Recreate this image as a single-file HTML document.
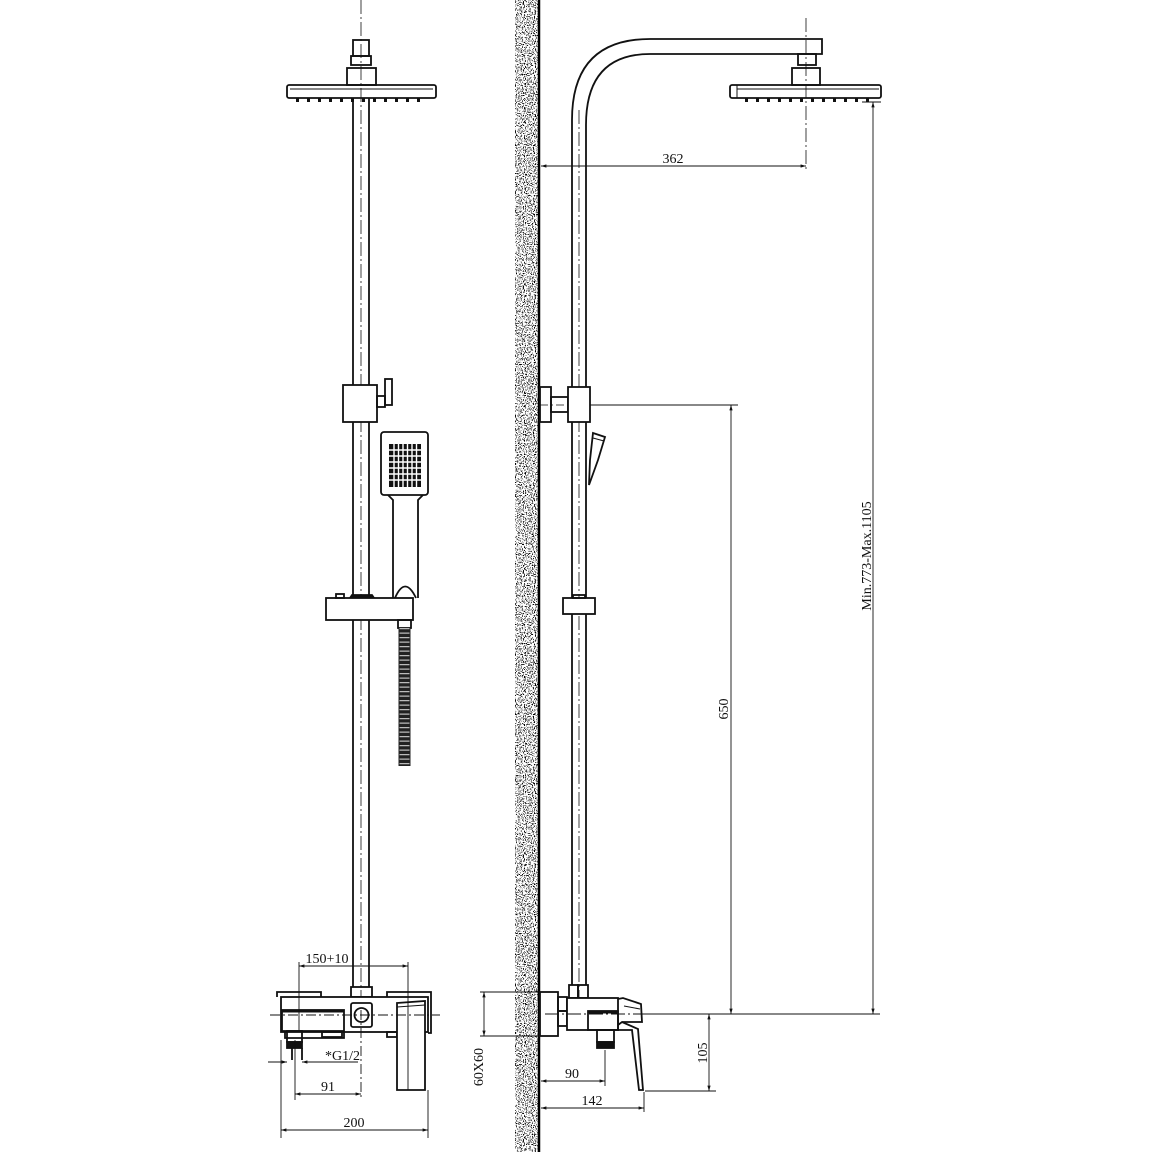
<!DOCTYPE html>
<html><head><meta charset="utf-8"><style>
html,body{margin:0;padding:0;background:#fff}
svg{display:block}
text{font-family:"Liberation Serif",serif;font-size:14px;fill:#111}
</style></head><body>
<svg width="1152" height="1152" viewBox="0 0 1152 1152" xmlns="http://www.w3.org/2000/svg">
<defs>
<filter id="spk" x="0" y="0" width="100%" height="100%">
<feTurbulence type="fractalNoise" baseFrequency="0.9" numOctaves="1" seed="3"/>
<feColorMatrix type="matrix" values="0 0 0 0 0  0 0 0 0 0  0 0 0 0 0  -12 0 0 0 5.6"/>
<feComposite in2="SourceGraphic" operator="in"/>
</filter>
<marker id="ar" viewBox="0 0 10 10" refX="10" refY="5" markerWidth="9" markerHeight="6" orient="auto-start-reverse"><path d="M0,2 L10,5 L0,8 z" fill="#111"/></marker>
</defs>
<rect width="1152" height="1152" fill="#fff"/>
<rect x="515" y="0" width="23" height="1152" fill="#fff"/>
<rect x="515" y="0" width="23" height="1152" fill="#000" filter="url(#spk)"/>
<line x1="539" y1="0" x2="539" y2="1152" stroke="#000" stroke-width="2.5"/>

<g fill="none" stroke="#111" stroke-width="1.8">
<line x1="361" y1="0" x2="361" y2="1000" stroke-width="0.8" stroke-dasharray="14,3,2,3"/>
<rect x="353" y="40" width="16" height="16"/>
<rect x="351" y="56" width="20" height="9"/>
<rect x="347" y="68" width="29" height="17"/>
<rect x="287" y="85" width="149" height="13" rx="2"/>
<line x1="290" y1="89" x2="433" y2="89" stroke-width="1"/>
<g fill="#111" stroke="none">
<rect x="296" y="98" width="3" height="4"/><rect x="307" y="98" width="3" height="4"/><rect x="318" y="98" width="3" height="4"/><rect x="329" y="98" width="3" height="4"/><rect x="340" y="98" width="3" height="4"/><rect x="351" y="98" width="3" height="4"/><rect x="362" y="98" width="3" height="4"/><rect x="373" y="98" width="3" height="4"/><rect x="384" y="98" width="3" height="4"/><rect x="395" y="98" width="3" height="4"/><rect x="406" y="98" width="3" height="4"/><rect x="417" y="98" width="3" height="4"/>
</g>
<line x1="353" y1="98" x2="353" y2="987"/>
<line x1="369" y1="98" x2="369" y2="987"/>
<rect x="343" y="385" width="34" height="37" fill="#fff"/>
<rect x="377" y="396" width="8" height="11"/>
<rect x="385" y="379" width="7" height="26"/>
<rect x="381" y="432" width="47" height="63" rx="3" fill="#fff"/>
<g fill="#111" stroke="none">
<rect x="389" y="444" width="32" height="43"/>
</g>
<g stroke="#fff" stroke-width="1.4">
<line x1="389" y1="450" x2="421" y2="450"/><line x1="389" y1="456" x2="421" y2="456"/><line x1="389" y1="462" x2="421" y2="462"/><line x1="389" y1="468" x2="421" y2="468"/><line x1="389" y1="474" x2="421" y2="474"/><line x1="389" y1="480" x2="421" y2="480"/>
<line x1="394" y1="444" x2="394" y2="487"/><line x1="398.5" y1="444" x2="398.5" y2="487"/><line x1="403" y1="444" x2="403" y2="487"/><line x1="407.5" y1="444" x2="407.5" y2="487"/><line x1="412" y1="444" x2="412" y2="487"/><line x1="416.5" y1="444" x2="416.5" y2="487"/>
</g>
<path d="M388,495 L393,500 L393,598 M423,495 L418,500 L418,598"/>
<path d="M395,598 Q405,575 416,598"/>
<rect x="326" y="598" width="87" height="22" fill="#fff"/>
<rect x="336" y="594" width="8" height="4"/>
<path d="M350,598 L352,595 L372,595 L374,598" fill="#111"/>
<rect x="398" y="620" width="13" height="8"/>
<line x1="404.5" y1="628" x2="404.5" y2="766" stroke-width="12" stroke="#222"/>
<line x1="404.5" y1="628" x2="404.5" y2="766" stroke-width="10" stroke="#bbb" stroke-dasharray="1.2,3.3"/>
<rect x="351" y="987" width="21" height="10"/>
<path d="M277,997 L277,992 L321,992 L321,997 M387,997 L387,992 L431,992 L431,1033 L428,1033"/>
<rect x="281" y="997" width="147" height="35" fill="#fff"/>
<rect x="282" y="1010" width="62" height="21"/>
<line x1="282" y1="1011" x2="344" y2="1011" stroke-width="3"/>
<rect x="351" y="1003" width="21" height="24" rx="2"/>
<circle cx="361.5" cy="1015" r="7"/>
<path d="M285,1032 L285,1038 L344,1038 L344,1032"/>
<rect x="322" y="1032" width="20" height="5"/>
<rect x="387" y="1032" width="10" height="5"/>
<path d="M397,1003 L425,1001 L425,1090 L397,1090 Z" fill="#fff"/>
<line x1="397" y1="1007" x2="425" y2="1005" stroke-width="1"/>
<rect x="287" y="1031" width="15" height="11"/>
<rect x="287" y="1042" width="15" height="6" fill="#111"/>
<path d="M292,1048 L292,1060 M302,1048 L302,1060"/>
<g stroke-width="0.9">
<line x1="299" y1="962" x2="299" y2="1032"/>
<line x1="408" y1="962" x2="408" y2="1090"/>
<line x1="299" y1="966" x2="408" y2="966" marker-start="url(#ar)" marker-end="url(#ar)"/>
<line x1="361" y1="1010" x2="361" y2="1100" stroke-dasharray="10,3,2,3"/>
<line x1="270" y1="1015" x2="440" y2="1015" stroke-dasharray="10,3,2,3"/>
<line x1="268" y1="1062" x2="287" y2="1062" marker-end="url(#ar)"/>
<line x1="302" y1="1062" x2="358" y2="1062" marker-start="url(#ar)"/>
<line x1="295" y1="1040" x2="295" y2="1100"/>
<line x1="295" y1="1094" x2="361" y2="1094" marker-start="url(#ar)" marker-end="url(#ar)"/>
<line x1="281" y1="1040" x2="281" y2="1138"/>
<line x1="428" y1="1090" x2="428" y2="1138"/>
<line x1="281" y1="1130" x2="428" y2="1130" marker-start="url(#ar)" marker-end="url(#ar)"/>
</g>

<line x1="579" y1="110" x2="579" y2="1000" stroke-width="0.8" stroke-dasharray="14,3,2,3"/>
<path d="M572,985 L572,120 Q572,39 650,39 L822,39 L822,54 L650,54 Q586,54 586,125 L586,985"/>
<rect x="798" y="54" width="18" height="11"/>
<rect x="792" y="68" width="28" height="17"/>
<rect x="730" y="85" width="151" height="13" rx="2"/>
<line x1="737" y1="85" x2="737" y2="98" stroke-width="1"/>
<line x1="737" y1="89" x2="879" y2="89" stroke-width="1"/>
<g fill="#111" stroke="none">
<rect x="745" y="98" width="3" height="4"/><rect x="756" y="98" width="3" height="4"/><rect x="767" y="98" width="3" height="4"/><rect x="778" y="98" width="3" height="4"/><rect x="789" y="98" width="3" height="4"/><rect x="800" y="98" width="3" height="4"/><rect x="811" y="98" width="3" height="4"/><rect x="822" y="98" width="3" height="4"/><rect x="833" y="98" width="3" height="4"/><rect x="844" y="98" width="3" height="4"/><rect x="855" y="98" width="3" height="4"/><rect x="866" y="98" width="3" height="4"/>
</g>
<line x1="806" y1="18" x2="806" y2="172" stroke-width="0.8" stroke-dasharray="14,3,2,3"/>
<rect x="540" y="387" width="11" height="35" fill="#fff"/>
<rect x="551" y="397" width="17" height="15"/>
<rect x="568" y="387" width="22" height="35" fill="#fff"/>
<line x1="540" y1="405" x2="568" y2="405" stroke-width="0.8" stroke-dasharray="8,3,2,3"/>
<path d="M593,433 L605,437 L598,460 L589,485 L590,460 Z" fill="#fff"/>
<line x1="593" y1="438" x2="604" y2="441" stroke-width="1"/>
<rect x="563" y="598" width="32" height="16" fill="#fff"/>
<rect x="573" y="595" width="12" height="3"/>
<rect x="540" y="992" width="18" height="44" fill="#fff"/>
<rect x="558" y="997" width="9" height="14"/><rect x="558" y="1011" width="9" height="15"/>
<rect x="569" y="985" width="9" height="13"/><rect x="578" y="985" width="10" height="13"/>
<rect x="567" y="998" width="51" height="32" fill="#fff"/>
<rect x="588" y="1011" width="30" height="19"/>
<line x1="588" y1="1012" x2="618" y2="1012" stroke-width="3"/>
<path d="M618,999 L623,998 L641,1004 L642,1022 L622,1022 L618,1025"/>
<line x1="624" y1="1006" x2="640" y2="1009" stroke-width="1"/>
<path d="M622,1022 L638,1029 L643,1090 L639,1090 L632,1030 L618,1030"/>
<rect x="597" y="1030" width="17" height="12"/>
<rect x="597" y="1042" width="17" height="6" fill="#111"/>
<g stroke-width="0.9">
<line x1="541" y1="166" x2="806" y2="166" marker-start="url(#ar)" marker-end="url(#ar)"/>
<line x1="590" y1="405" x2="738" y2="405"/>
<line x1="731" y1="405" x2="731" y2="1014" marker-start="url(#ar)" marker-end="url(#ar)"/>
<line x1="873" y1="102" x2="873" y2="1014" marker-start="url(#ar)" marker-end="url(#ar)"/>
<line x1="862" y1="102" x2="881" y2="102"/>
<line x1="545" y1="1014" x2="880" y2="1014" stroke-dasharray="14,3,2,3"/>
<line x1="643" y1="1014" x2="880" y2="1014"/>
<line x1="480" y1="992" x2="540" y2="992"/>
<line x1="480" y1="1036" x2="540" y2="1036"/>
<line x1="484" y1="992" x2="484" y2="1036" marker-start="url(#ar)" marker-end="url(#ar)"/>
<line x1="605" y1="1050" x2="605" y2="1086"/>
<line x1="541" y1="1081" x2="605" y2="1081" marker-start="url(#ar)" marker-end="url(#ar)"/>
<line x1="644" y1="1092" x2="644" y2="1112"/>
<line x1="541" y1="1108" x2="644" y2="1108" marker-start="url(#ar)" marker-end="url(#ar)"/>
<line x1="645" y1="1091" x2="716" y2="1091"/>
<line x1="709" y1="1014" x2="709" y2="1091" marker-start="url(#ar)" marker-end="url(#ar)"/>
</g>
</g>

<text x="327" y="963" text-anchor="middle">150+10</text>
<text x="325" y="1060">*G1/2</text>
<text x="328" y="1091" text-anchor="middle">91</text>
<text x="354" y="1127" text-anchor="middle">200</text>
<text x="673" y="163" text-anchor="middle">362</text>
<text x="572" y="1078" text-anchor="middle">90</text>
<text x="592" y="1105" text-anchor="middle">142</text>
<text transform="translate(728,709) rotate(-90)" text-anchor="middle">650</text>
<text transform="translate(871,556) rotate(-90)" text-anchor="middle">Min.773-Max.1105</text>
<text transform="translate(707,1053) rotate(-90)" text-anchor="middle">105</text>
<text transform="translate(483,1067) rotate(-90)" text-anchor="middle">60X60</text>
</svg>
</body></html>
